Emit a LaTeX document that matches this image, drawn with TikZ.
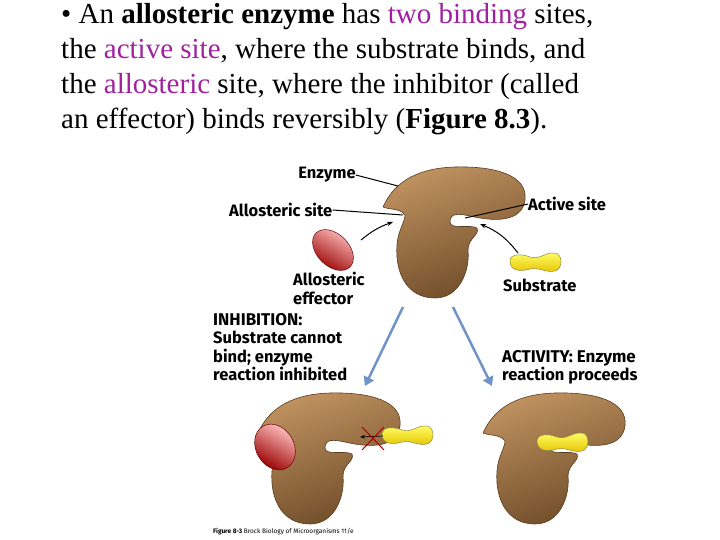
\documentclass[tikz,border=0pt]{standalone}
\usepackage{fontspec}
\setmainfont{Liberation Serif}
\newfontfamily\lbl{Fira Sans}[BoldFont={Fira Sans Bold}]
\usetikzlibrary{arrows.meta}
\definecolor{purp}{RGB}{160,32,160}
\definecolor{arrblue}{RGB}{112,148,200}
\definecolor{brownA}{RGB}{190,145,95}
\definecolor{brownB}{RGB}{110,75,40}
\tikzset{
 enz/.style={draw=brownB!80!black, line width=0.6pt, top color=brownA, bottom color=brownB, shading angle=20},
 eff/.style={draw=red!40!black, line width=0.5pt, top color=red!25!white, bottom color=red!60!black, shading angle=-30},
 sub/.style={draw=yellow!50!black, line width=0.5pt, top color=yellow!60!white, bottom color=yellow!70!orange!90!black},
 lab/.style={font=\lbl\bfseries\fontsize{16.5}{18.5}\selectfont, inner sep=0pt, align=left},
 ptr/.style={line width=1pt, black},
 bigarr/.style={line width=2.5pt, arrblue, -{Triangle[length=9pt,width=11pt]}},
}
\newcommand{\enzpath}{(-57,-23) .. controls (-45,-50) and (-20,-62) .. (15,-63) .. controls (55,-64) and (88,-55) .. (85,-30) .. controls (82,-8) and (55,-8) .. (30,-14) .. controls (20,-16) and (10,-18) .. (10,-8) .. controls (10,0) and (30,-6) .. (37,-2) .. controls (40,5) and (28,8) .. (28,20) .. controls (30,40) and (20,68) .. (-5,68) .. controls (-35,68) and (-45,40) .. (-43,15) .. controls (-42,0) and (-35,-8) .. (-35,-15) .. controls (-40,-22) and (-50,-20) .. (-57,-23) -- cycle}
\newcommand{\subpath}{(-25,-2) .. controls (-25,-10) and (-12,-9) .. (-5,-6) .. controls (5,-3) and (10,-11) .. (20,-10) .. controls (28,-9) and (28,6) .. (20,8) .. controls (10,10) and (5,4) .. (-5,6) .. controls (-15,9) and (-25,8) .. (-25,-2) -- cycle}
\begin{document}
\begin{tikzpicture}[x=1pt,y=-1pt]
\useasboundingbox (0,0) rectangle (720,540);
\node[anchor=north west, inner sep=0pt, align=left, font=\fontsize{29}{35}\selectfont] (txt) at (61,3)
{• An \textbf{allosteric enzyme} has \textcolor{purp}{two binding} sites,\\
the \textcolor{purp}{active site}, where the substrate binds, and\\
the \textcolor{purp}{allosteric} site, where the inhibitor (called\\
an effector) binds reversibly (\textbf{Figure 8.3}).};
% top enzyme
\path[enz, shift={(440,230)}] \enzpath;
\coordinate (enzT) at (398,186);
\coordinate (allo) at (403,215);
\coordinate (act) at (465,218);
\coordinate (alloin) at (393,222);
\coordinate (actin) at (480,224);
\path[eff, rotate around={-45:(333,250)}] (333,250) ellipse (24 and 16);
\coordinate (effc) at (361,240);
\path[sub, shift={(535,263)}] \subpath;
\coordinate (subc) at (518,253);
\node[lab] (lenz) at (327,175) {Enzyme};
\node[lab, anchor=west] (lallo) at (229,210) {Allosteric site};
\node[lab, anchor=west] (lact) at (528,204) {Active site};
\node[lab, anchor=north west] (leff) at (293,272) {Allosteric\\effector};
\node[lab, anchor=west] (lsub) at (503,285) {Substrate};
\draw[ptr] (lenz.east) -- (enzT);
\draw[ptr] (lallo.east) -- (allo);
\draw[ptr] (lact.west) -- (act);
\draw[ptr, -{Stealth[length=6pt]}] (effc) to[bend left=10] (alloin);
\draw[ptr, -{Stealth[length=6pt]}] (subc) to[bend right=15] (actin);
% big arrows
\coordinate (a1s) at (403,307); \coordinate (a1e) at (365,386);
\coordinate (a2s) at (453,307); \coordinate (a2e) at (492,386);
\draw[bigarr] (a1s) -- (a1e);
\draw[bigarr] (a2s) -- (a2e);
\node[lab, anchor=north west] (linh) at (213,313) {\fontsize{17}{18.7}\selectfont INHIBITION:\\Substrate cannot\\bind; enzyme\\reaction inhibited};
\node[lab, anchor=north west] (lactv) at (502,350) {\fontsize{17}{18.7}\selectfont ACTIVITY: Enzyme\\reaction proceeds};
% lower left
\path[enz, shift={(315,456)}] \enzpath;
\path[eff, rotate around={-60:(275,447)}] (275,447) ellipse (24 and 19);
\path[sub, shift={(407,436)}] \subpath;
\coordinate (xa) at (383,436); \coordinate (xb) at (360,437);
\draw[ptr, line width=0.7pt, -{Stealth[length=5pt]}] (xa) -- (xb);
\coordinate (x1) at (362,427); \coordinate (x2) at (384,450);
\coordinate (x3) at (362,450); \coordinate (x4) at (384,427);
\draw[red!70!black, line width=1pt] (x1) -- (x2) (x3) -- (x4);
% lower right
\path[enz, shift={(540,456)}] \enzpath;
\path[sub, shift={(562,443)}] \subpath;
\node[anchor=north west, inner sep=0pt, font=\lbl\fontsize{6.5}{7}\selectfont] (cap) at (213,528) {\textbf{Figure 8-3} Brock Biology of Microorganisms 11/e};
\end{tikzpicture}
\end{document}
